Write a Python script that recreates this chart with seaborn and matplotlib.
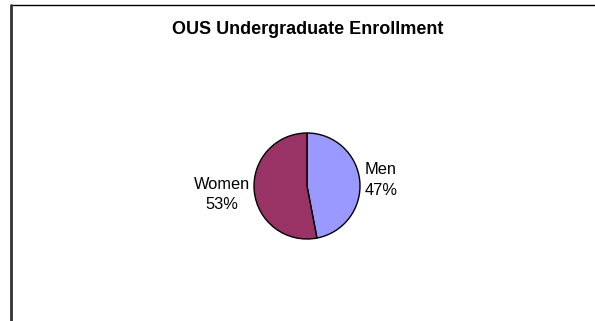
import matplotlib
matplotlib.use("Agg")
import matplotlib.pyplot as plt
from matplotlib.lines import Line2D
import seaborn as sns

sns.set_theme(style="white")
plt.rcParams['font.family'] = ['Liberation Sans', 'DejaVu Sans']
plt.rcParams['text.color'] = 'black'

title = "OUS Undergraduate Enrollment"
categories = ["Men", "Women"]
shares = [47, 53]
colors = ["#9999FF", "#993366"]

W, H = 595, 321
fig = plt.figure(figsize=(W / 100, H / 100), dpi=100)
fig.patch.set_facecolor("white")

# frame lines (top and left)
fig.add_artist(Line2D([11 / W, 1.0], [1 - 4.5 / H, 1 - 4.5 / H], color="black", lw=1.0, transform=fig.transFigure))
fig.add_artist(Line2D([11 / W, 11 / W], [0, 1 - 4.5 / H], color="#333333", lw=2.0, transform=fig.transFigure))

cx, cy, r = 307, 186, 53
ax = fig.add_axes([(cx - r) / W, 1 - (cy + r) / H, 2 * r / W, 2 * r / H])
wedges, _ = ax.pie(shares, colors=colors, startangle=90, counterclock=False,
                   wedgeprops=dict(edgecolor="black", linewidth=1.0))
ax.set_aspect("auto")
ax.set_xlim(-1, 1)
ax.set_ylim(-1, 1)

fig.text(308 / W, 1 - 29 / H, title, ha="center", va="center",
         fontsize=13, fontweight="bold", color="black")
fig.text(381 / W, 1 - 180 / H, f"{categories[0]}\n{shares[0]}%", ha="center", va="center",
         fontsize=11.8, linespacing=1.42, color="black")
fig.text(222 / W, 1 - 194.5 / H, f"{categories[1]}\n{shares[1]}%", ha="center", va="center",
         fontsize=11.8, linespacing=1.42, color="black")

fig.savefig("out.png", dpi=100, facecolor="white")
